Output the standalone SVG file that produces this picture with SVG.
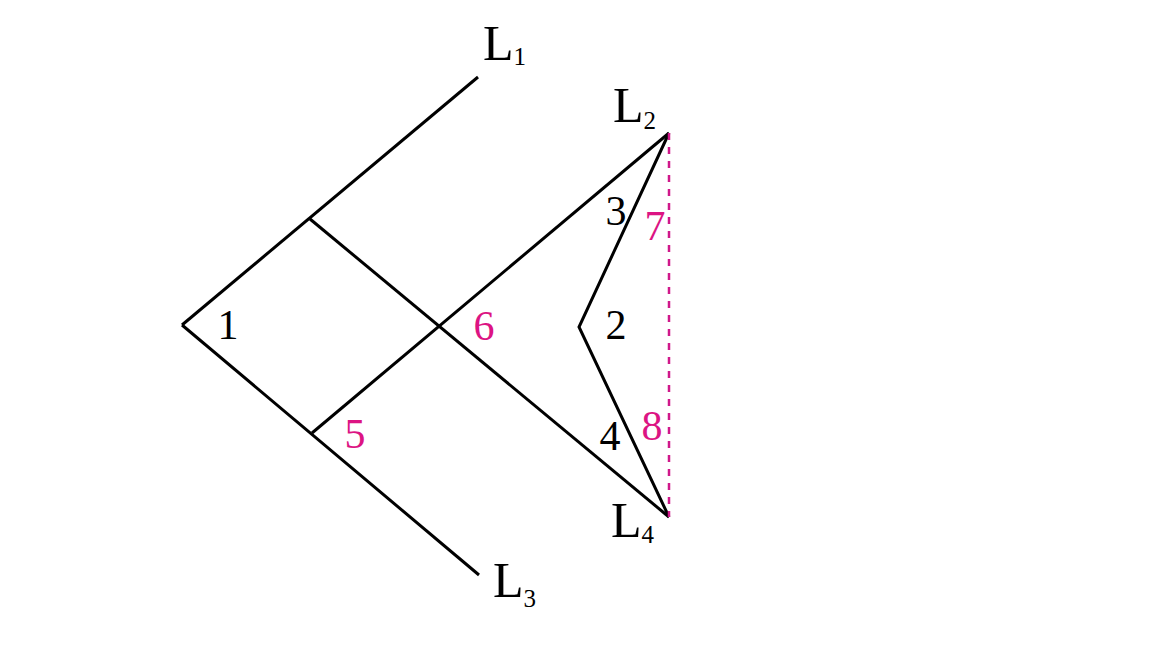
<svg xmlns="http://www.w3.org/2000/svg" width="1150" height="650" viewBox="0 0 1150 650">
<style>
.ln{stroke:#000;stroke-width:3;fill:none;stroke-linejoin:miter}
.ds{stroke:#d0188a;stroke-width:2.5;stroke-dasharray:7,7;fill:none}
.t{font-family:"Liberation Serif","Times New Roman",serif;font-size:42px;text-anchor:middle}
.k{fill:#000}
.m{fill:#dc1483}
.L{font-family:"Liberation Serif","Times New Roman",serif;font-size:50px;fill:#000}
.s{font-size:25px}
</style>
<rect width="1150" height="650" fill="#fff"/>
<g id="connectors">
<line class="ln" x1="182" y1="325" x2="478" y2="77"/>
<line class="ln" x1="182" y1="325" x2="479" y2="575"/>
<line class="ln" x1="310" y1="219" x2="669" y2="517"/>
<line class="ln" x1="312" y1="433" x2="669" y2="133"/>
<polyline class="ln" points="669,133 579,327 669,517"/>
<line class="ds" x1="669" y1="133" x2="669" y2="517"/>
</g>
<g id="label-L1"><text class="L" x="483" y="60">L<tspan class="s" dy="5">1</tspan></text></g>
<g id="label-L2"><text class="L" x="613" y="122">L<tspan class="s" dy="7">2</tspan></text></g>
<g id="label-L3"><text class="L" x="493" y="597">L<tspan class="s" dy="10">3</tspan></text></g>
<g id="label-L4"><text class="L" x="611" y="537">L<tspan class="s" dy="6">4</tspan></text></g>
<g id="angle-1"><text class="t k" x="228" y="339">1</text></g>
<g id="angle-2"><text class="t k" x="616" y="339">2</text></g>
<g id="angle-3"><text class="t k" x="616" y="225">3</text></g>
<g id="angle-4"><text class="t k" x="610" y="450">4</text></g>
<g id="angle-5"><text class="t m" x="355" y="448">5</text></g>
<g id="angle-6"><text class="t m" x="484" y="340">6</text></g>
<g id="angle-7"><text class="t m" x="655" y="240">7</text></g>
<g id="angle-8"><text class="t m" x="652" y="440">8</text></g>
</svg>
